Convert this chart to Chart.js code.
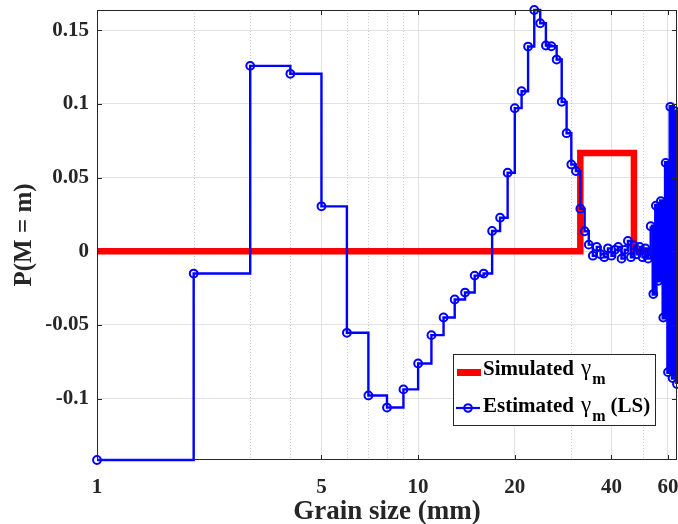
<!DOCTYPE html>
<html><head><meta charset="utf-8">
<script src="https://cdn.jsdelivr.net/npm/chart.js@4.4.1/dist/chart.umd.min.js"></script>
<style>html,body{margin:0;padding:0;background:#fff;}canvas{display:block;}</style>
</head><body>
<canvas id="c" width="678" height="524"></canvas>
<script>
// ---------- data ----------
const grainSizes = [1,2,3,4,5,6,7,8,9,10,11,12,13,14,15,16,17,18,19,20,21,22,23,24,25,26,27,28,29,30,31,32,
  33,34,35,36,37,38,39,40,41,42,43,44,45,46,47,48,49,50,51,52,53,54,55,56,57,58,59,60,61,62,63,64];
const simulated = [0,0,0,0,0,0,0,0,0,0,0,0,0,0,0,0,0,0,0,0,0,0,0,0,0,0,0,0,0,0,0,
  0.0667,0.0667,0.0667,0.0667,0.0667,0.0667,0.0667,0.0667,0.0667,0.0667,0.0667,0.0667,0.0667,0.0667,0.0667,
  0,0,0,0,0,0,0,0,0,0,0,0,0,0,0,0,0,0];
const estimated = [-0.1416,-0.0151,0.1258,0.1204,0.0305,-0.0553,-0.0978,-0.1060,-0.0937,-0.0761,
  -0.0569,-0.0449,-0.0327,-0.0280,-0.0165,-0.0151,0.0138,0.0228,0.0533,0.0971,
  0.1086,0.1389,0.1637,0.1547,0.1396,0.1391,0.1301,0.1014,0.0801,0.0589,
  0.0544,0.0289,0.0136,0.0045,-0.003,0.003,-0.002,-0.004,0.002,-0.003,
  0.001,0.003,-0.005,0.001,0.007,-0.004,0.004,-0.002,0.003,-0.004,
  0.002,-0.005,0.017,-0.029,0.031,-0.020,0.034,-0.045,0.060,-0.082,
  0.098,-0.086,0.095,-0.090];
const xTickValues = [1,5,10,20,40,60];
const xMinorGrid = [2,3,4,6,7,8,9,30,50];
const yTickValues = [-0.1,-0.05,0,0.05,0.1,0.15];
const seriesNames = ['Simulated', 'Estimated'];
const xTitle = 'Grain size (mm)';
const yTitle = 'P(M = m)';

const FONT = "'Liberation Serif','Times New Roman',serif";
const AX = '#262626';

const zeroPad = s => { s.paddingLeft = 0; s.paddingRight = 0; s.paddingTop = 0; s.paddingBottom = 0; };

const decor = {
  id: 'decor',
  beforeDatasetsDraw(chart) {
    const {ctx, chartArea: a, scales: {x}} = chart;
    ctx.save();
    ctx.strokeStyle = '#c8c8c8'; ctx.lineWidth = 1; ctx.setLineDash([1, 2]);
    xMinorGrid.forEach(v => {
      const px = Math.round(x.getPixelForValue(v)) + 0.5;
      ctx.beginPath(); ctx.moveTo(px, a.top); ctx.lineTo(px, a.bottom); ctx.stroke();
    });
    ctx.restore();
  },
  afterDraw(chart) {
    const {ctx, chartArea: a, scales: {x, y}} = chart;
    ctx.save();
    ctx.strokeStyle = AX; ctx.lineWidth = 1;
    ctx.strokeRect(Math.round(a.left) + 0.5, Math.round(a.top) + 0.5,
                   Math.round(a.right - a.left) - 1, Math.round(a.bottom - a.top) - 1);
    ctx.beginPath();
    yTickValues.forEach(v => {
      const py = Math.round(y.getPixelForValue(v)) + 0.5;
      ctx.moveTo(a.left, py); ctx.lineTo(a.left + 5, py);
      ctx.moveTo(a.right, py); ctx.lineTo(a.right - 5, py);
    });
    xTickValues.forEach(v => {
      const px = Math.round(x.getPixelForValue(v)) + 0.5;
      ctx.moveTo(px, a.bottom); ctx.lineTo(px, a.bottom - 5);
      ctx.moveTo(px, a.top); ctx.lineTo(px, a.top + 5);
    });
    ctx.stroke();

    // legend
    const L = a.right - 224, T = a.bottom - 106, W = 202, H = 71;
    ctx.fillStyle = '#fff';
    ctx.fillRect(L, T, W, H);
    ctx.strokeStyle = AX; ctx.lineWidth = 1;
    ctx.strokeRect(L + 0.5, T + 0.5, W, H);
    ctx.fillStyle = '#ff0000';
    ctx.fillRect(L + 4, T + 15, 24, 7);
    ctx.strokeStyle = '#0000ff'; ctx.lineWidth = 2.2;
    ctx.beginPath(); ctx.moveTo(L + 3, T + 54); ctx.lineTo(L + 27, T + 54); ctx.stroke();
    ctx.beginPath(); ctx.arc(L + 15, T + 54, 3.8, 0, Math.PI * 2); ctx.lineWidth = 2; ctx.stroke();

    const drawLabel = (name, suffix, bx, by) => {
      ctx.fillStyle = '#000';
      ctx.textBaseline = 'alphabetic'; ctx.textAlign = 'left';
      ctx.font = "bold 21px " + FONT;
      ctx.fillText(name, bx, by);
      let cx = bx + ctx.measureText(name).width + 7;
      ctx.font = "23px " + FONT;
      ctx.fillText('\u03b3', cx, by);
      cx += ctx.measureText('\u03b3').width + 1;
      ctx.font = "bold 16px " + FONT;
      ctx.fillText('m', cx, by + 9);
      cx += ctx.measureText('m').width;
      if (suffix) {
        ctx.font = "bold 21px " + FONT;
        ctx.fillText(suffix, cx + 5, by);
      }
    };
    drawLabel(seriesNames[0], '', L + 30, T + 21);
    drawLabel(seriesNames[1], '(LS)', L + 30, T + 58);
    ctx.restore();
  }
};

new Chart(document.getElementById('c'), {
  type: 'line',
  data: {
    datasets: [
      {
        label: seriesNames[0],
        data: grainSizes.map((g, i) => ({x: g, y: simulated[i]})),
        borderColor: '#ff0000', borderWidth: 6.5, stepped: true,
        pointRadius: 0, fill: false, borderCapStyle: 'butt', borderJoinStyle: 'miter', order: 2
      },
      {
        label: seriesNames[1],
        data: grainSizes.map((g, i) => ({x: g, y: estimated[i]})),
        borderColor: '#0000ff', borderWidth: 2.4, stepped: true,
        segment: {borderWidth: c => (c.p0.parsed.x >= 53 ? 3.6 : 2.4)},
        pointRadius: 3.9, pointBorderWidth: 2, pointBorderColor: '#0000ff',
        pointBackgroundColor: 'rgba(0,0,0,0)', fill: false, clip: false, order: 1
      }
    ]
  },
  options: {
    responsive: false, animation: false, devicePixelRatio: 1,
    layout: {autoPadding: false, padding: {left: 0, top: 10, right: 1, bottom: 0}},
    plugins: {legend: {display: false}, tooltip: {enabled: false}},
    scales: {
      x: {
        type: 'logarithmic', min: 1, max: 64,
        afterBuildTicks: s => { s.ticks = xTickValues.map(v => ({value: v})); },
        afterFit: s => { s.height = 64; zeroPad(s); },
        ticks: {font: {family: FONT, size: 21, weight: 'bold'}, color: AX, padding: 15,
                autoSkip: false, maxRotation: 0, callback: v => String(v)},
        grid: {color: '#e2e2e2', drawTicks: false, lineWidth: 1},
        border: {display: false},
        title: {display: true, text: xTitle, color: AX,
                font: {family: FONT, size: 27, weight: 'bold', lineHeight: 0.86}, padding: {top: 0, bottom: 0}}
      },
      y: {
        type: 'linear', min: Math.min(...estimated), max: Math.max(...estimated),
        afterBuildTicks: s => { s.ticks = yTickValues.map(v => ({value: v})); },
        afterFit: s => { s.width = 97; zeroPad(s); },
        ticks: {font: {family: FONT, size: 21, weight: 'bold'}, color: AX, padding: 8,
                callback: v => String(Math.round(v * 100) / 100)},
        grid: {color: '#e2e2e2', drawTicks: false, lineWidth: 1},
        border: {display: false},
        title: {display: true, text: yTitle, color: AX,
                font: {family: FONT, size: 25, weight: 'bold', lineHeight: 1.2}, padding: {top: 10, bottom: 0}}
      }
    }
  },
  plugins: [decor]
});
</script>
</body></html>
